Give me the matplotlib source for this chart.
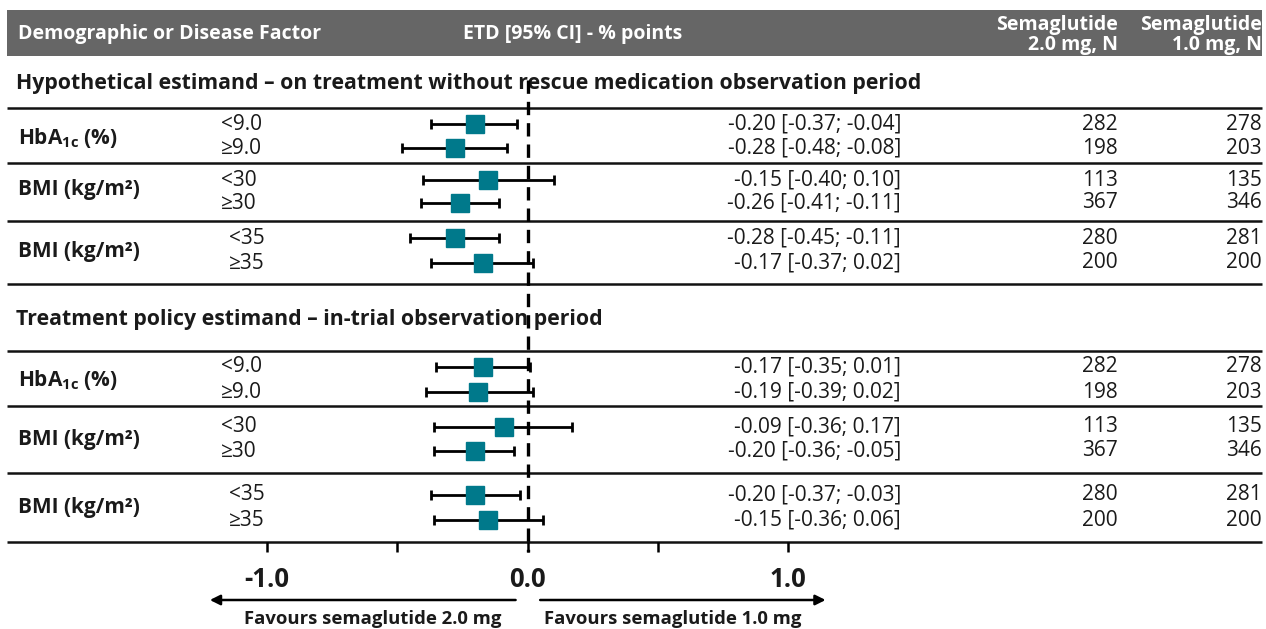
import matplotlib.pyplot as plt

plt.rcParams['font.family'] = ['Open Sans', 'Noto Sans', 'DejaVu Sans']
plt.rcParams['mathtext.fontset'] = 'custom'
plt.rcParams['mathtext.rm'] = 'Open Sans'
plt.rcParams['mathtext.bf'] = 'Open Sans:bold'

# subgroup estimates (ETD, % points) - hypothetical then treatment policy
sections = ['Hypothetical estimand – on treatment without rescue medication observation period',
            'Treatment policy estimand – in-trial observation period']
factors = [r'HbA$_{\mathbf{1c}}$ (%)', 'BMI (kg/m²)', 'BMI (kg/m²)'] * 2
subgroups = ['<9.0', '≥9.0', '<30', '≥30', '<35', '≥35'] * 2
etd = [-0.20, -0.28, -0.15, -0.26, -0.28, -0.17,
       -0.17, -0.19, -0.09, -0.20, -0.20, -0.15]
ci_low = [-0.37, -0.48, -0.40, -0.41, -0.45, -0.37,
          -0.35, -0.39, -0.36, -0.36, -0.37, -0.36]
ci_high = [-0.04, -0.08, 0.10, -0.11, -0.11, 0.02,
           0.01, 0.02, 0.17, -0.05, -0.03, 0.06]
n_2mg = [282, 198, 113, 367, 280, 200, 282, 198, 113, 367, 280, 200]
n_1mg = [278, 203, 135, 346, 281, 200, 278, 203, 135, 346, 281, 200]

# layout, in pixel rows of the 1266x629 canvas
W, H = 1266, 629
row_y = [124, 148, 180, 203, 238, 263, 367, 392, 427, 451, 495, 520]
factor_y = [138, 190, 252, 380, 440, 507]
title_y = [84, 319]
rule_y = [108, 163, 221, 284, 351, 406, 473, 542]
sub_x = [221, 221, 221, 221, 229, 229] * 2

TEAL = '#00798b'
INK = '#1a1a1a'

fig = plt.figure(figsize=(W / 100, H / 100), dpi=100)

# table layer in pixel coordinates
tab = fig.add_axes([0, 0, 1, 1])
tab.set_xlim(0, W)
tab.set_ylim(H, 0)
tab.axis('off')

tab.axhspan(10, 56, xmin=7 / W, xmax=1262 / W, color='#666666', lw=0)
hdr = dict(color='white', fontsize=14, fontweight='bold', va='center')
tab.text(18, 34, 'Demographic or Disease Factor', ha='left', **hdr)
tab.text(463, 34, 'ETD [95% CI] - % points', ha='left', **hdr)
tab.text(1118, 35, 'Semaglutide\n2.0 mg, N', ha='right', multialignment='right',
         linespacing=1.05, **hdr)
tab.text(1262, 35, 'Semaglutide\n1.0 mg, N', ha='right', multialignment='right',
         linespacing=1.05, **hdr)

for title, y in zip(sections, title_y):
    tab.text(16, y, title, fontsize=15.3, fontweight='bold', color=INK, va='center')

tab.hlines(rule_y, 7, 1262, color='#111111', lw=1.8)

for name, y in zip(factors, factor_y):
    tab.text(18, y, name, fontsize=15, fontweight='bold', color=INK, va='center')

for i, y in enumerate(row_y):
    cell = dict(fontsize=15, color=INK, va='center')
    tab.text(sub_x[i], y, subgroups[i], ha='left', **cell)
    tab.text(901, y, f'{etd[i]:.2f} [{ci_low[i]:.2f}; {ci_high[i]:.2f}]', ha='right', **cell)
    tab.text(1118, y, str(n_2mg[i]), ha='right', **cell)
    tab.text(1262, y, str(n_1mg[i]), ha='right', **cell)

# forest panel: x in ETD units, y shares the pixel rows
ax = fig.add_axes([267 / W, (H - 542) / H, 521 / W, (542 - 60) / H])
ax.patch.set_visible(False)
ax.set_xlim(-1, 1)
ax.set_ylim(542, 60)
for s in ax.spines.values():
    s.set_visible(False)
ax.set_yticks([])

xerr = [[e - lo for e, lo in zip(etd, ci_low)], [hi - e for e, hi in zip(etd, ci_high)]]
ax.errorbar(etd, row_y, xerr=xerr, fmt='none', ecolor='black', elinewidth=2,
            capsize=3.8, capthick=2, zorder=3)
ax.plot(etd, row_y, 's', color=TEAL, markersize=13, zorder=4)

ax.vlines(0, 80, 552, color='black', lw=2.4, linestyles=(0, (4, 2.4)),
          clip_on=False, zorder=2)

ax.set_xticks([-1, 0, 1], ['-1.0', '0.0', '1.0'])
ax.set_xticks([-0.5, 0.5], minor=True)
ax.tick_params(axis='x', which='both', direction='out', length=7, width=1.8,
               color='black', pad=10)
for lab in ax.get_xticklabels():
    lab.set_fontsize(18.5)
    lab.set_fontweight('bold')
    lab.set_color(INK)

arrow = dict(arrowstyle='-|>', color='black', lw=1.8, mutation_scale=15)
ax.annotate('', xy=(-1.23, 600), xytext=(-0.035, 600), arrowprops=arrow,
            annotation_clip=False)
ax.annotate('', xy=(1.155, 600), xytext=(0.038, 600), arrowprops=arrow,
            annotation_clip=False)
ax.text(-0.595, 628, 'Favours semaglutide 2.0 mg', ha='center', va='bottom',
        fontsize=13.3, fontweight='bold', color=INK, clip_on=False)
ax.text(0.557, 628, 'Favours semaglutide 1.0 mg', ha='center', va='bottom',
        fontsize=13.3, fontweight='bold', color=INK, clip_on=False)

fig.savefig('out.png', dpi=100)
